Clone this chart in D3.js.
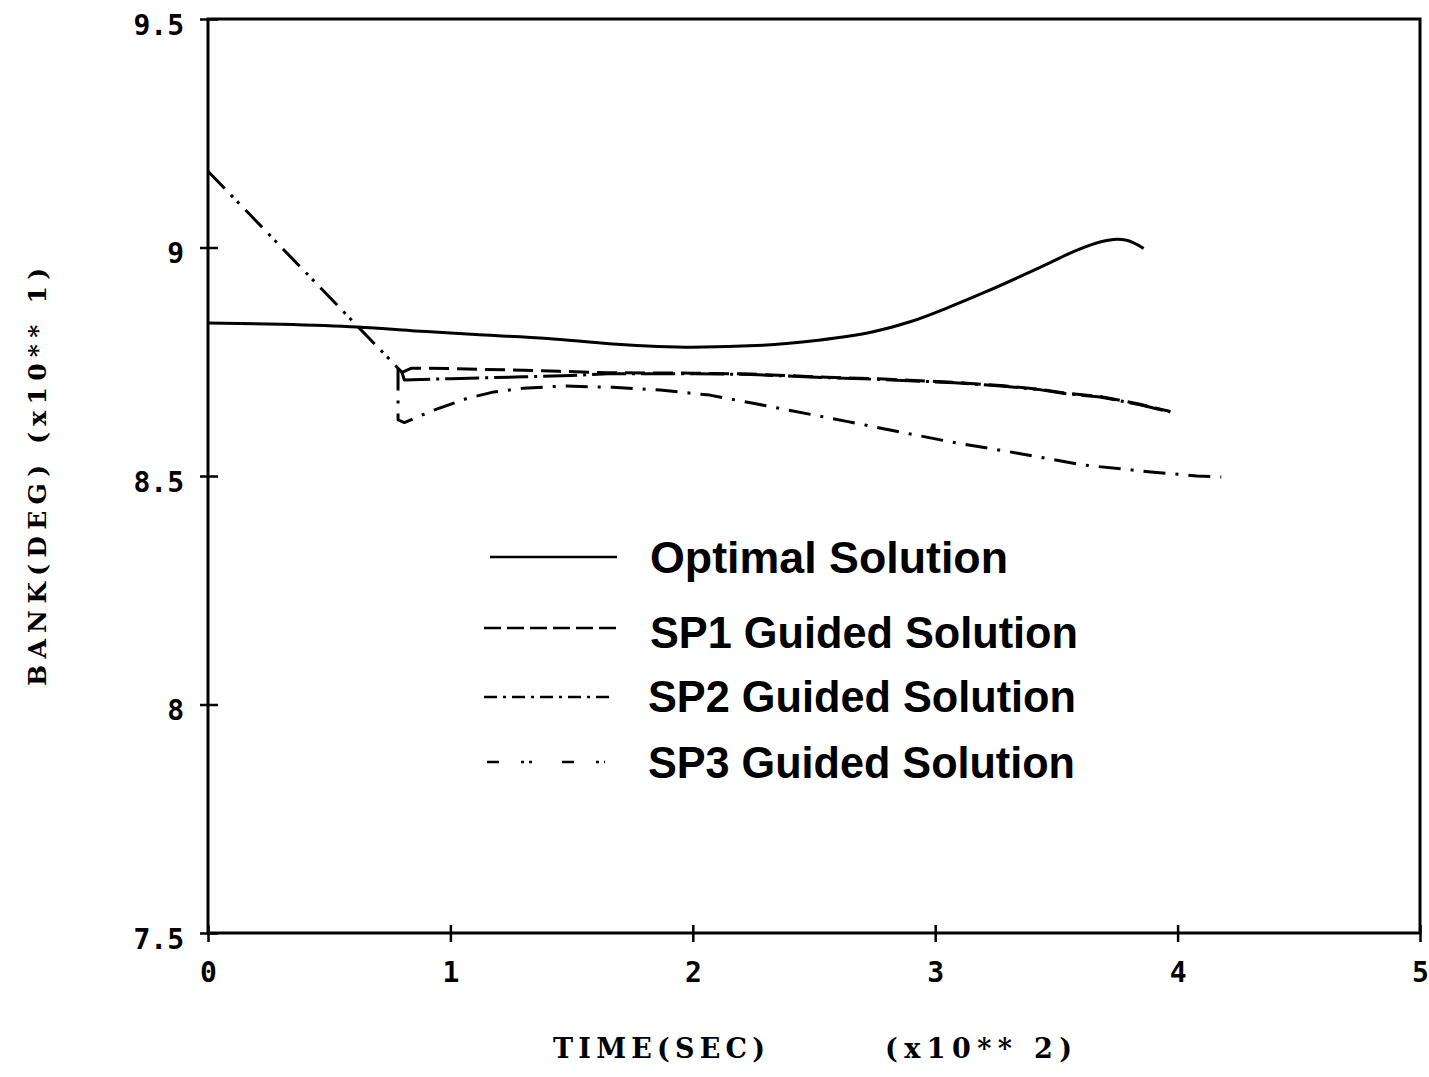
<!DOCTYPE html>
<html>
<head>
<meta charset="utf-8">
<script src="https://cdn.jsdelivr.net/npm/d3@7"></script>
<style>
  html, body { margin: 0; padding: 0; background: #fff; }
  svg { display: block; }
</style>
</head>
<body>
<div id="chart"></div>
<script>
// Bank angle histories (deg x10) against time (s x100)
const xTicks = [0, 1, 2, 3, 4, 5];
const xTickLabels = ["0", "1", "2", "3", "4", "5"];
const yTicks = [7.5, 8, 8.5, 9, 9.5];
const yTickLabels = ["7.5", "8", "8.5", "9", "9.5"];

const optimalTime = [0, 0.3, 0.615, 0.9, 1.12, 1.4, 1.67, 2.0, 2.29, 2.5, 2.74, 2.9, 3.06, 3.2, 3.34, 3.47, 3.58, 3.68, 3.75, 3.79, 3.86];
const optimalBank = [8.835, 8.832, 8.826, 8.816, 8.809, 8.801, 8.789, 8.782, 8.786, 8.796, 8.815, 8.838, 8.870, 8.901, 8.934, 8.966, 8.993, 9.012, 9.018, 9.016, 8.998];

// initial leg flown by all three guided runs before the guidance switches on
const sharedTime = [0, 0.8];
const sharedBank = [9.167, 8.727];

const sp1Time = [0.8, 0.84, 1.0, 1.25, 1.45, 1.65, 2.0, 2.24, 2.51, 2.79, 3.08, 3.27, 3.43, 3.54, 3.68, 3.845, 3.97];
const sp1Bank = [8.727, 8.736, 8.735, 8.732, 8.729, 8.726, 8.725, 8.723, 8.717, 8.712, 8.705, 8.698, 8.690, 8.681, 8.674, 8.657, 8.641];

const sp2Time = [0.8, 0.81, 1.0, 1.15, 1.3, 1.5, 1.65, 2.0, 2.24, 2.51, 2.79, 3.08, 3.27, 3.43, 3.54, 3.68, 3.845, 3.97];
const sp2Bank = [8.727, 8.710, 8.713, 8.715, 8.717, 8.720, 8.724, 8.724, 8.722, 8.716, 8.711, 8.704, 8.697, 8.689, 8.680, 8.673, 8.656, 8.640];

const sp3Time = [0.784, 0.784, 0.81, 0.86, 0.93, 1.07, 1.18, 1.3, 1.465, 1.67, 1.865, 2.07, 2.26, 2.64, 3.06, 3.34, 3.61, 3.89, 4.08, 4.18];
const sp3Bank = [8.735, 8.623, 8.617, 8.628, 8.644, 8.670, 8.684, 8.692, 8.697, 8.694, 8.688, 8.677, 8.658, 8.619, 8.575, 8.550, 8.524, 8.509, 8.500, 8.498];

const seriesNames = ["Optimal Solution", "SP1 Guided Solution", "SP2 Guided Solution", "SP3 Guided Solution"];

const W = 1429, H = 1077;
const svg = d3.select("#chart").append("svg")
  .attr("width", W).attr("height", H)
  .attr("viewBox", `0 0 ${W} ${H}`);

const x = d3.scaleLinear().domain([0, 5]).range([208, 1420]);
const y = d3.scaleLinear().domain([7.5, 9.5]).range([933, 19]);

const ink = "#000";
const tickFont = "'DejaVu Sans Mono', 'Liberation Mono', monospace";
const titleFont = "'DejaVu Serif', 'Liberation Serif', serif";
const legendFont = "'Liberation Sans', Arial, 'Helvetica', sans-serif";

// plot frame
svg.append("rect")
  .attr("x", x(0)).attr("y", y(9.5))
  .attr("width", x(5) - x(0)).attr("height", y(7.5) - y(9.5))
  .attr("fill", "none").attr("stroke", ink).attr("stroke-width", 3);

// x axis with crossing ticks
const gx = svg.append("g")
  .attr("transform", `translate(0,${y(7.5)})`)
  .call(d3.axisBottom(x).tickValues(xTicks)
    .tickFormat((d, i) => xTickLabels[i])
    .tickSizeInner(9).tickSizeOuter(0));
gx.select(".domain").remove();
gx.selectAll(".tick line").attr("y1", -8).attr("y2", 9)
  .attr("stroke", ink).attr("stroke-width", 2.5);
gx.selectAll(".tick text")
  .attr("y", 49).attr("dy", 0)
  .attr("font-family", tickFont).attr("font-weight", "bold")
  .attr("font-size", 28).attr("fill", ink);

// y axis with crossing ticks
const gy = svg.append("g")
  .attr("transform", `translate(${x(0)},0)`)
  .call(d3.axisLeft(y).tickValues(yTicks)
    .tickFormat((d, i) => yTickLabels[i])
    .tickSizeInner(8).tickSizeOuter(0));
gy.select(".domain").remove();
gy.selectAll(".tick line").attr("x1", -8).attr("x2", 10)
  .attr("stroke", ink).attr("stroke-width", 2.5);
gy.selectAll(".tick text")
  .attr("x", -24).attr("dy", 0).attr("y", 15)
  .attr("text-anchor", "end")
  .attr("font-family", tickFont).attr("font-weight", "bold")
  .attr("font-size", 28).attr("fill", ink);

// axis titles
svg.append("text")
  .attr("x", 553).attr("y", 1058)
  .attr("font-family", titleFont).attr("font-weight", "bold").attr("font-size", 27)
  .attr("textLength", 212).attr("lengthAdjust", "spacing")
  .attr("fill", ink).text("TIME(SEC)");
svg.append("text")
  .attr("x", 885).attr("y", 1058)
  .attr("font-family", titleFont).attr("font-weight", "bold").attr("font-size", 27)
  .attr("textLength", 187).attr("lengthAdjust", "spacing")
  .attr("fill", ink).text("(x10** 2)");
svg.append("text")
  .attr("transform", "translate(46,686) rotate(-90)")
  .attr("x", 0).attr("y", 0)
  .attr("font-family", titleFont).attr("font-weight", "bold").attr("font-size", 25)
  .attr("textLength", 418).attr("lengthAdjust", "spacing")
  .attr("fill", ink).text("BANK(DEG) (x10** 1)");

// curves
const zip = (ts, vs) => ts.map((t, i) => [t, vs[i]]);
const smooth = d3.line().x(d => x(d[0])).y(d => y(d[1])).curve(d3.curveMonotoneX);
const straight = d3.line().x(d => x(d[0])).y(d => y(d[1])).curve(d3.curveLinear);

const curves = [
  { data: zip(sharedTime, sharedBank), gen: straight, dash: "24,9,3,6,3,9" },
  { data: zip(optimalTime, optimalBank), gen: smooth, dash: null },
  { data: zip(sp1Time, sp1Bank), gen: straight, dash: "20,8" },
  { data: zip(sp2Time, sp2Bank), gen: straight, dash: "34,6,3,6" },
  { data: zip(sp3Time, sp3Bank), gen: straight, dash: "22,10,3,10" }
];

svg.append("g").selectAll("path").data(curves).join("path")
  .attr("d", d => d.gen(d.data))
  .attr("fill", "none").attr("stroke", ink)
  .attr("stroke-width", 3)
  .attr("stroke-linejoin", "round")
  .attr("stroke-dasharray", d => d.dash);

// legend
const legendRows = [
  { x1: 490, x2: 617, ly: 557, tx: 650, ty: 573, tw: 358, dash: null },
  { x1: 484, x2: 622, ly: 628, tx: 650, ty: 648, tw: 428, dash: "17,6" },
  { x1: 484, x2: 612, ly: 697, tx: 648, ty: 712, tw: 428, dash: "13,6,3,6" },
  { x1: 487, x2: 605, ly: 762, tx: 648, ty: 778, tw: 427, dash: "12,22,3,5,3,30" }
];

const lg = svg.append("g");
lg.selectAll("line").data(legendRows).join("line")
  .attr("x1", d => d.x1).attr("x2", d => d.x2)
  .attr("y1", d => d.ly).attr("y2", d => d.ly)
  .attr("stroke", ink).attr("stroke-width", 2.5)
  .attr("stroke-dasharray", d => d.dash);
lg.selectAll("text").data(legendRows).join("text")
  .attr("x", d => d.tx).attr("y", d => d.ty)
  .attr("font-family", legendFont).attr("font-weight", "bold").attr("font-size", 45)
  .attr("textLength", d => d.tw).attr("lengthAdjust", "spacingAndGlyphs")
  .attr("fill", ink)
  .text((d, i) => seriesNames[i]);
</script>
</body>
</html>
